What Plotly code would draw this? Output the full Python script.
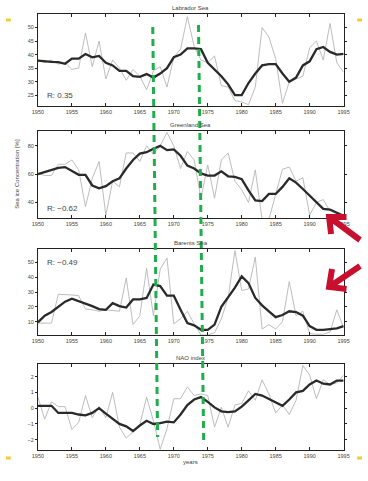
import plotly.graph_objects as go

W, H = 368, 481
years = list(range(1950, 1996))

lab_raw = [38, 37, 38, 36.5, 37, 34.5, 35, 48, 35.5, 45, 31, 38, 35, 30.5, 34.5, 32, 27, 34, 35.5, 28,
           39, 42, 54, 43, 38, 37, 39.5, 28.5, 28, 23, 22.5, 21.5, 28, 50, 46.5, 38.5, 22, 30, 31, 32,
           42.5, 45, 38, 51.5, 37, 33.5]
lab_smooth = [37.8, 37.5, 37.3, 37.2, 36.6, 38.5, 38.5, 40.2, 39, 39.5, 37, 36, 34, 34, 32, 31.8, 32.8, 31.5, 33, 35,
              39, 40, 42.3, 42.3, 42, 37, 34.5, 32, 29, 25, 25, 29.5, 33, 36, 36.5, 36.5, 33, 30, 31.5, 36,
              37.5, 42, 42.8, 41, 40, 40.3]

grn_raw = [60.5, 59, 59, 67, 67, 70, 63, 37, 57, 69, 31, 55, 51, 75, 75, 69, 80, 74, 80, 89.5,
           80, 64, 76, 70, 43, 66.5, 43, 70, 75, 55, 49, 40, 63, 28, 28, 45, 63.5, 65, 55, 57.5,
           31, 40, 42, 34, 32, 29]
grn_smooth = [60, 61.5, 63, 64.5, 65, 62, 59.5, 59.5, 52, 50, 51.5, 55, 57, 64, 70, 74.5, 75.5, 78, 80, 77,
              77.5, 73, 66, 64, 60.5, 59, 59, 62, 58.5, 58, 56.5, 48.5, 41.5, 41, 46, 46, 51, 57, 54, 49.5,
              45, 40.5, 35.5, 35, 33, 30.5]

bar_raw = [9, 9, 9, 28.5, 28, 28, 27.5, 18.5, 18, 17, 18, 17.5, 17, 39.5, 8, 14, 46, 14, 45.5, 53,
           8.5, 12, 17, 8.5, 1, 1, 2.5, 12, 26, 58, 31, 32, 53.5, 5, 8, 5, 10, 37, 14, 17,
           2, 1.5, 1.5, 3, 18, 6]
bar_smooth = [9.5, 14, 16.5, 20, 23.5, 25.5, 24, 22, 20.5, 18.5, 18, 22.5, 20.5, 19.5, 25, 25, 26, 35, 34, 27.5,
              27.5, 18, 9, 7.5, 4.5, 4.5, 8, 20, 26.5, 33, 40.5, 36, 26, 21, 17, 13, 14.5, 17, 16.5, 14,
              7, 4.5, 4.5, 5, 5.5, 7]

nao_raw = [0.7, -0.7, 0.4, 0.1, 0.1, -1.35, -0.9, 0.8, -0.6, 0.1, -0.6, 1.0, -1.2, -1.9, -1.5, -1.05, 0.7, -0.8, -2.6, -1.3,
           0.6, 0.6, 1.35, 0.8, 0.9, 0.8, -1.2, 0.05, -1.2, 0.2, 0.3, 1.1, 0.5, 1.8, 0.9, -0.3, 0.2, -0.4, 0.5, 2.7,
           2.1, 0.6, 1.8, 1.5, 1.6, 2.1]
nao_smooth = [0.15, 0.15, 0.15, -0.3, -0.3, -0.3, -0.4, -0.45, -0.3, 0.0, -0.35, -0.7, -1.0, -1.15, -1.45, -1.1, -0.8, -1.0, -0.95, -0.85,
              -0.9, -0.4, 0.2, 0.55, 0.7, 0.4, 0.05, -0.2, -0.25, -0.2, 0.1, 0.5, 0.9, 0.8, 0.6, 0.4, 0.15, 0.55, 1.0, 1.1,
              1.5, 1.75, 1.55, 1.5, 1.75, 1.75]

titles = ["Labrador Sea", "Greenland Sea", "Barents Sea", "NAO index"]
r_labels = ["R: 0.35", "R: \u22120.62", "R: \u22120.49", None]
raws = [lab_raw, grn_raw, bar_raw, nao_raw]
smooths = [lab_smooth, grn_smooth, bar_smooth, nao_smooth]
y_ranges = [[21, 55], [29, 90.5], [1, 59], [-2.65, 2.8]]
y_ticks = [[25, 30, 35, 40, 45, 50], [40, 60, 80], [10, 20, 30, 40, 50], [-2, -1, 0, 1, 2]]
x_ticks = list(range(1950, 1996, 5))

# panel pixel boxes (top, bottom)
boxes = [(14, 106), (131, 218), (249, 335), (364, 450)]
x0px, x1px = 33, 349

def px(x):
    return x / W

def py(y):
    return 1 - y / H

fig = go.Figure()
font = "Liberation Sans, Arial, sans-serif"
layout = dict(width=W, height=H, margin=dict(l=0, r=0, t=0, b=0),
              paper_bgcolor="white", plot_bgcolor="white", showlegend=False,
              font=dict(family=font, size=6, color="#333"))
annotations = []
shapes = []
for i in range(4):
    n = "" if i == 0 else str(i + 1)
    xa, ya = "x" + n, "y" + n
    fig.add_trace(go.Scatter(x=years, y=raws[i], mode="lines", xaxis=xa, yaxis=ya,
                             line=dict(color="#b5b5b5", width=0.9)))
    fig.add_trace(go.Scatter(x=years, y=smooths[i], mode="lines", xaxis=xa, yaxis=ya,
                             line=dict(color="#2a2a2a", width=2.3)))
    top, bot = boxes[i]
    layout["xaxis" + n] = dict(domain=[px(x0px), px(x1px)], range=[1950, 1995], anchor=ya,
                               tickvals=x_ticks, ticks="inside", ticklen=3, tickwidth=1,
                               tickcolor="#222", showline=True, linecolor="#222", linewidth=1,
                               mirror="ticks", showgrid=False, zeroline=False,
                               tickfont=dict(size=5.5, color="#444"))
    layout["yaxis" + n] = dict(domain=[py(bot), py(top)], range=y_ranges[i], anchor=xa,
                               tickvals=y_ticks[i], ticks="outside", ticklen=2, tickwidth=1,
                               tickcolor="#222", showline=True, linecolor="#222", linewidth=1,
                               mirror="ticks", showgrid=False, zeroline=False,
                               tickfont=dict(size=5.5, color="#444"))
    annotations.append(dict(text=titles[i], x=px(191), y=py(top - 1), xref="paper", yref="paper",
                            xanchor="center", yanchor="bottom", showarrow=False,
                            font=dict(size=6, color="#444")))
    if r_labels[i]:
        ry = {0: 95, 1: 209, 2: 262}[i]
        annotations.append(dict(text=r_labels[i], x=px(40), y=py(ry), xref="paper", yref="paper",
                                xanchor="left", yanchor="middle", showarrow=False,
                                font=dict(size=8, color="#444")))

annotations.append(dict(text="Sea ice Concentration [%]", x=px(6), y=py(174), xref="paper", yref="paper",
                        textangle=-90, showarrow=False, font=dict(size=6, color="#444")))
annotations.append(dict(text="years", x=px(191), y=py(467), xref="paper", yref="paper",
                        showarrow=False, font=dict(size=6, color="#444")))

green = "#1fae4b"
for (xt, yt, xb, yb) in [(151.7, 27, 156.7, 437), (199, 25, 204.3, 440)]:
    shapes.append(dict(type="line", xref="paper", yref="paper", x0=px(xt), y0=py(yt), x1=px(xb), y1=py(yb),
                       line=dict(color=green, width=3, dash="7px,5px")))

red = "#c8102e"
def path(pts_list):
    s = ""
    for pts in pts_list:
        s += "M {} {} ".format(px(pts[0][0]), py(pts[0][1]))
        for p in pts[1:]:
            s += "L {} {} ".format(px(p[0]), py(p[1]))
    return s

arrow1 = [[(366, 240), (334, 217)], [(352, 217), (334, 217), (336, 234)]]
arrow2 = [[(366, 266), (334, 287)], [(337, 269), (334, 287), (352, 289)]]
for a in (arrow1, arrow2):
    shapes.append(dict(type="path", xref="paper", yref="paper", path=path(a),
                       line=dict(color=red, width=6)))

yellow = "#f2cf2e"
for (xa0, xa1, yy) in [(0, 5, 20), (363, 368, 20), (0, 5, 458), (363, 368, 458)]:
    shapes.append(dict(type="line", xref="paper", yref="paper", x0=px(xa0), x1=px(xa1), y0=py(yy), y1=py(yy),
                       line=dict(color=yellow, width=3)))

layout["annotations"] = annotations
layout["shapes"] = shapes
fig.update_layout(**layout)
fig.write_html("out.html")
